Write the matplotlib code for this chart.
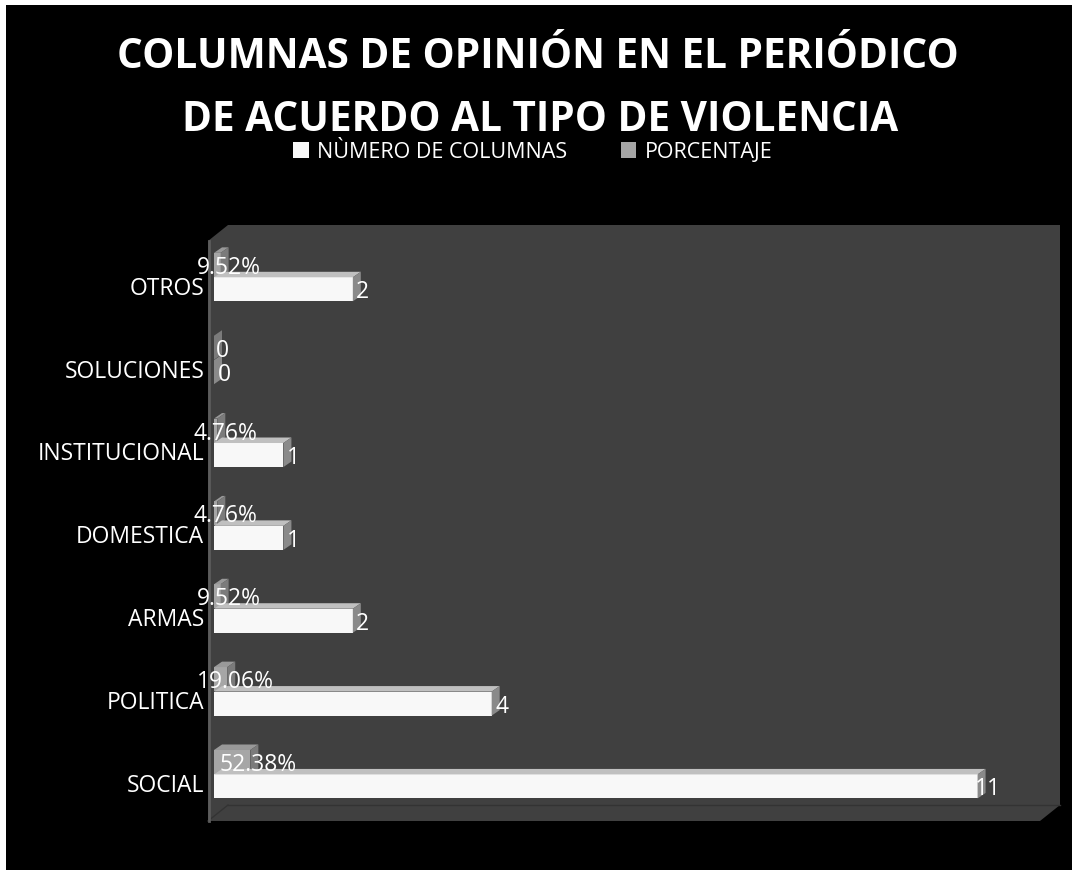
#!/usr/bin/env python3

import matplotlib
matplotlib.use('Agg')
import matplotlib.pyplot as plt
from matplotlib.patches import Polygon, Rectangle

# datos
categorias = ['SOCIAL', 'POLITICA', 'ARMAS', 'DOMESTICA', 'INSTITUCIONAL', 'SOLUCIONES', 'OTROS']
numero_columnas = [11, 4, 2, 1, 1, 0, 2]
porcentaje = [0.5238, 0.1906, 0.0952, 0.0476, 0.0476, 0.0, 0.0952]
etiquetas_pct = ['52.38%', '19.06%', '9.52%', '4.76%', '4.76%', '0', '9.52%']
serie_nombres = ['NÙMERO DE COLUMNAS', 'PORCENTAJE']

W, H = 1073, 871
plt.rcParams['font.family'] = ['Open Sans', 'DejaVu Sans']


def fx(px):
    return px / W


def fy(py):
    return (H - py) / H


def caja_3d(ax, y, largo, alto, dx, dy, frente, arriba, lado):
    # cara frontal, superior y lateral de una barra "3D"
    b = ax.barh(y, largo, height=alto, color=frente, zorder=3)
    top = y + alto / 2
    bot = y - alto / 2
    ax.add_patch(Polygon([(0, top), (largo, top), (largo + dx, top + dy), (dx, top + dy)],
                         closed=True, facecolor=arriba, edgecolor='none', zorder=3))
    ax.add_patch(Polygon([(largo, bot), (largo, top), (largo + dx, top + dy), (largo + dx, bot + dy)],
                         closed=True, facecolor=lado, edgecolor='none', zorder=3))
    return b


def main():
    fig = plt.figure(figsize=(W / 100, H / 100), dpi=100, facecolor='white')

    # fondo negro y paredes grises
    fig.patches.append(Rectangle((fx(6), fy(870)), fx(1066), 865 / H, zorder=-3,
                                 transform=fig.transFigure, facecolor='black', edgecolor='none'))
    pared = [(228, 225), (1060, 225), (1060, 805), (1040, 821), (208, 821), (208, 241)]
    fig.patches.append(Polygon([(fx(a), fy(b)) for a, b in pared], closed=True, zorder=-2,
                               transform=fig.transFigure, facecolor='#404040', edgecolor='none'))
    fig.add_artist(plt.Line2D([fx(228), fx(1060)], [fy(805), fy(805)], transform=fig.transFigure,
                              color='#333333', lw=1, zorder=-1))
    fig.add_artist(plt.Line2D([fx(208), fx(228)], [fy(821), fy(805)], transform=fig.transFigure,
                              color='#333333', lw=1, zorder=-1))
    fig.add_artist(plt.Line2D([fx(208.5), fx(208.5)], [fy(241), fy(821)], transform=fig.transFigure,
                              color='#5c5c5c', lw=2, zorder=-1))

    ax = fig.add_axes([fx(214), fy(821), fx(1047) - fx(214), fy(241) - fy(821)])
    ax.set_zorder(5)
    ax.set_facecolor('none')
    ax.set_xlim(0, 12)
    ax.set_ylim(-0.5, len(categorias) - 0.5)

    # profundidad en unidades de datos
    ux = 12 / (1047 - 214)
    uy = len(categorias) / (821 - 241)
    dx, dy = 8 * ux, 5.5 * uy
    alto = 0.29

    barras_num = None
    barras_pct = None
    for i in reversed(range(len(categorias))):
        yp = i + 0.212
        yn = i - 0.083
        bp = caja_3d(ax, yp, porcentaje[i], alto, dx, dy, '#a6a6a6', '#999999', '#7b7b7b')
        bn = caja_3d(ax, yn, numero_columnas[i], alto, dx, dy, '#f8f8f8', '#c0c0c0', '#8a8a8a')
        ax.annotate(etiquetas_pct[i], (porcentaje[i], yp), xytext=(8, 0), textcoords='offset pixels',
                    ha='center', va='center_baseline', color='white', fontsize=16.5, zorder=5)
        ax.annotate(str(numero_columnas[i]), (numero_columnas[i], yn), xytext=(10, 0),
                    textcoords='offset pixels', ha='center', va='center_baseline', color='white',
                    fontsize=16.5, zorder=5)
        barras_num, barras_pct = bn, bp

    ax.set_yticks([i - 0.04 for i in range(len(categorias))])
    ax.set_yticklabels(categorias, color='white', fontsize=16.5, va='center_baseline')
    ax.tick_params(axis='y', length=0, pad=7)
    ax.set_xticks([])
    for s in ax.spines.values():
        s.set_visible(False)

    fig.text(fx(538), fy(68), 'COLUMNAS DE OPINIÓN EN EL PERIÓDICO', ha='center', va='baseline',
             color='white', fontsize=29.2, fontweight='bold')
    fig.text(fx(540), fy(131), 'DE ACUERDO AL TIPO DE VIOLENCIA', ha='center', va='baseline',
             color='white', fontsize=29.2, fontweight='bold')

    fig.legend([barras_num, barras_pct], serie_nombres, loc='center', ncol=2,
               bbox_to_anchor=(fx(533), fy(152)), frameon=False, labelcolor='white',
               fontsize=15.5, handlelength=0.7, handleheight=0.7, handletextpad=0.4,
               columnspacing=2.5)

    fig.savefig('out.png', dpi=100, facecolor='white')


if __name__ == "__main__":
    main()
